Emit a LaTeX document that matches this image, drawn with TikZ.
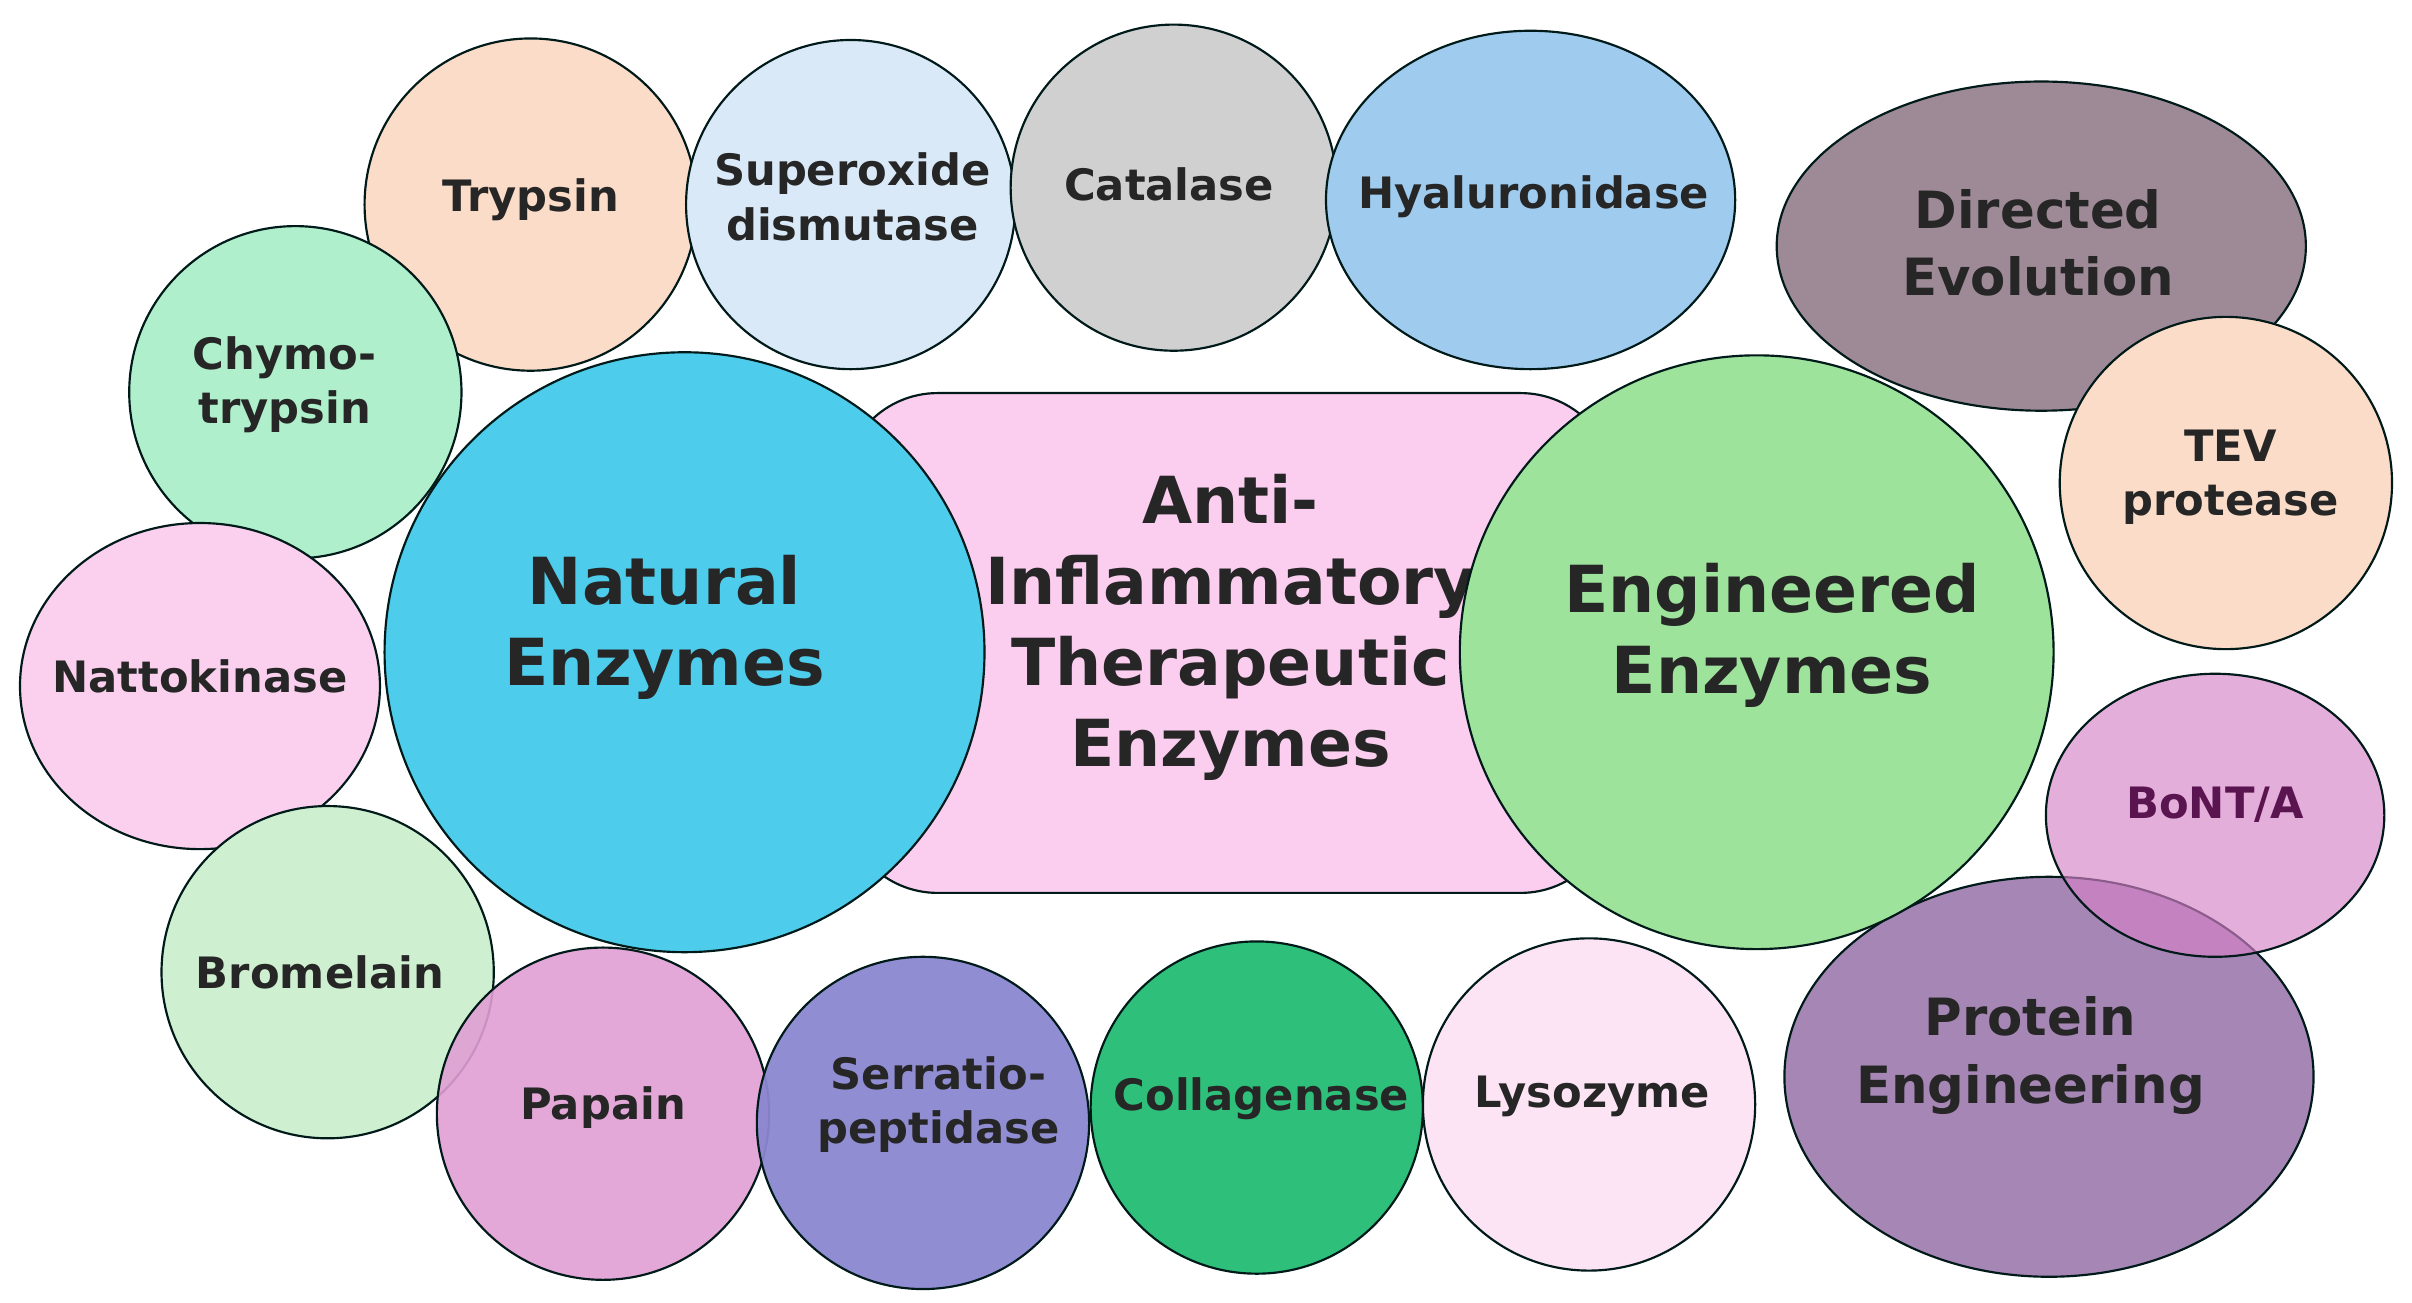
\documentclass[tikz,border=0pt]{standalone}
\usepackage{fontspec}
\setmainfont{DejaVu Sans}
\begin{document}
\begin{tikzpicture}[x=0.02cm,y=-0.02cm,
  bub/.style={draw=black!80!teal,line width=0.8pt},
  lab/.style={font=\bfseries\fontsize{16}{20}\selectfont,align=center,text=black!85},
  big/.style={font=\bfseries\fontsize{24}{30}\selectfont,align=center,text=black!85}]
\useasboundingbox (0,0) rectangle (1568,847);
\definecolor{peach}{HTML}{FBDCC8}
% center rectangle
\node[bub,fill={rgb,255:red,251;green,205;blue,239},rounded corners=35pt,minimum width=10.04cm,minimum height=6.5cm] (ctr) at (799,418) {};
\node[big] (ctrt) at (800,408) {Anti-\\Inflammatory\\Therapeutic\\Enzymes};
% small circles
\fill[bub,fill=peach] (345,133) circle (108); \node[lab] (tr) at (345,130) {Trypsin};
\fill[bub,fill={rgb,255:red,218;green,233;blue,248}] (553,133) circle (107); \node[lab] (sd) at (554,128) {Superoxide\\dismutase};
\fill[bub,fill={rgb,255:red,208;green,208;blue,208}] (763,122) circle (106); \node[lab] (ca) at (760,120) {Catalase};
\fill[bub,fill={rgb,255:red,158;green,203;blue,238}] (995,130) ellipse (133 and 110); \node[lab] (hy) at (997,128) {Hyaluronidase};
\fill[bub,fill={rgb,255:red,175;green,239;blue,203}] (192,255) circle (108); \node[lab] (ch) at (185,250) {Chymo-\\trypsin};
\fill[bub,fill={rgb,255:red,250;green,208;blue,238}] (130,446) ellipse (117 and 106); \node[lab] (na) at (130,440) {Nattokinase};
\fill[bub,fill={rgb,255:red,207;green,240;blue,208}] (213,632) circle (108); \node[lab] (br) at (208,632) {Bromelain};
\fill[bub,fill={rgb,255:red,224;green,158;blue,212},fill opacity=0.9] (392,724) circle (108); \node[lab] (pa) at (392,720) {Papain};
\fill[bub,fill={rgb,255:red,139;green,135;blue,208},fill opacity=0.95] (600,730) circle (108); \node[lab] (se) at (610,718) {Serratio-\\peptidase};
\fill[bub,fill={rgb,255:red,46;green,192;blue,122}] (817,720) circle (108); \node[lab] (co) at (820,714) {Collagenase};
\fill[bub,fill={rgb,255:red,252;green,228;blue,244}] (1033,718) circle (108); \node[lab] (ly) at (1035,713) {Lysozyme};
% right side
\fill[bub,fill={rgb,255:red,158;green,138;blue,150}] (1327,160) ellipse (172 and 107); \node[lab,font=\bfseries\fontsize{19}{25}\selectfont] (de) at (1325,158) {Directed\\Evolution};
\fill[bub,fill=peach] (1447,314) circle (108); \node[lab] (tev) at (1450,310) {TEV\\protease};
\fill[bub,fill={rgb,255:red,160;green,127;blue,176},fill opacity=0.95] (1332,700) ellipse (172 and 130); \node[lab,font=\bfseries\fontsize{19}{25}\selectfont] (pe) at (1320,686) {Protein\\Engineering};
\fill[bub,fill={rgb,255:red,214;green,130;blue,200},fill opacity=0.65] (1440,530) ellipse (110 and 92); \node[lab,text={rgb,255:red,90;green,20;blue,80}] (bo) at (1440,523) {BoNT/A};
% pink slivers
\fill[bub,fill={rgb,255:red,236;green,120;blue,210}] (1148,134) [rotate=-56.6] ellipse (134 and 8);
\fill[bub,fill={rgb,255:red,236;green,120;blue,210}] (1160,720) [rotate=61.4] ellipse (126 and 8);
% big circles
\fill[bub,fill={rgb,255:red,78;green,204;blue,235}] (445,424) circle (195); \node[big] (ne) at (432,408) {Natural\\Enzymes};
\fill[bub,fill={rgb,255:red,158;green,227;blue,156}] (1142,424) circle (193); \node[big] (ee) at (1152,413) {Engineered\\Enzymes};
\end{tikzpicture}
\end{document}
